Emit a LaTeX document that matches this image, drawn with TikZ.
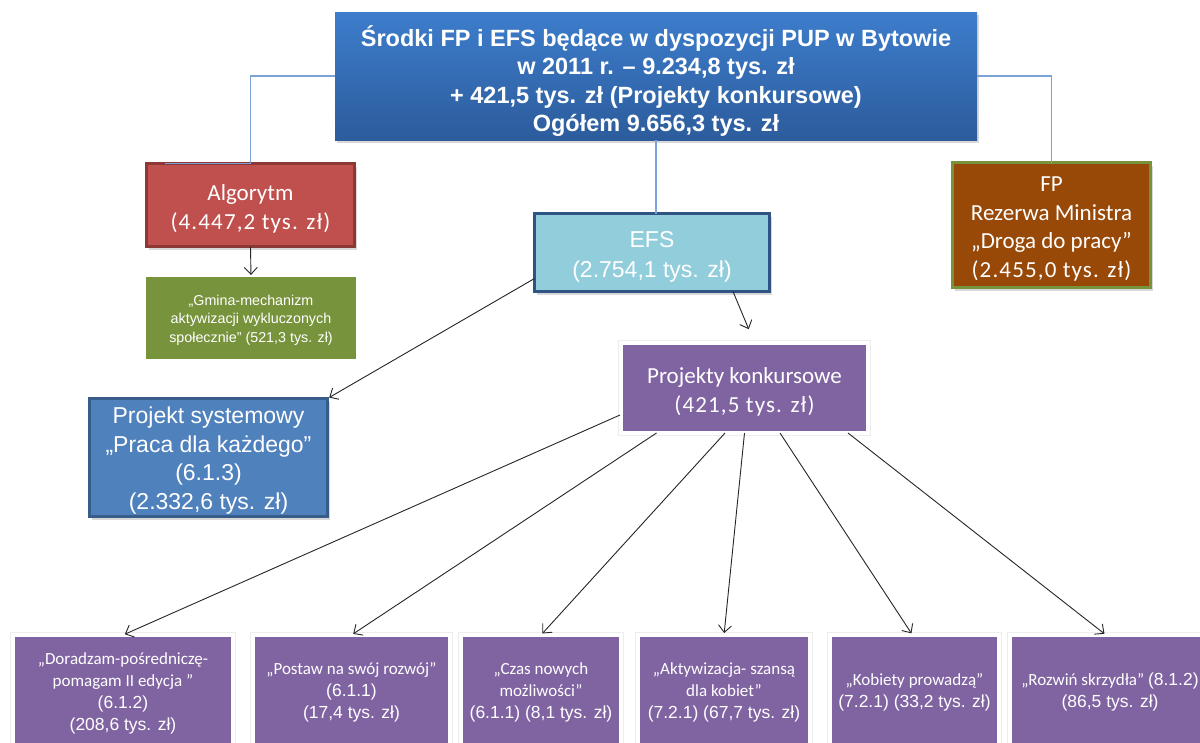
\documentclass[tikz,border=0pt]{standalone}
\usepackage{fontspec}
\setmainfont{Liberation Sans}
\newfontfamily\fcal{Carlito}
\newfontfamily\fcalw[LetterSpace=5]{Carlito}
\newfontfamily\farial{Liberation Sans}
\usetikzlibrary{arrows.meta,shadows,calc}
\definecolor{topA}{HTML}{3D7DCC}
\definecolor{topB}{HTML}{2C5C9C}
\definecolor{algF}{HTML}{C0504D}
\definecolor{algD}{HTML}{8C3836}
\definecolor{olive}{HTML}{77933C}
\definecolor{brownF}{HTML}{984807}
\definecolor{efsF}{HTML}{92CDDC}
\definecolor{efsD}{HTML}{2F5382}
\definecolor{sysF}{HTML}{4F81BD}
\definecolor{sysD}{HTML}{385D8A}
\definecolor{purp}{HTML}{8064A2}
\definecolor{connC}{HTML}{7BA3D8}
\tikzset{
  box/.style={rectangle, inner sep=2pt, outer sep=0pt, align=center, text=white},
  shad/.style={drop shadow={opacity=0.3, shadow xshift=2pt, shadow yshift=-3pt}},
  glow/.style={box, fill=purp, preaction={draw=black!7, line width=6.5pt}, draw=white, line width=4pt},
  conn/.style={draw=connC, line width=1.3pt},
  arr/.style={-{Straight Barb[length=7pt,width=13pt]}, line width=0.9pt, draw=black!85, shorten >=2pt},
  txt/.style={text=white, align=center, inner sep=0pt, yshift=-4pt},
  calf/.style={font=\fcal\fontsize{23}{29}\selectfont},
  ar/.style={font=\farial\fontsize{17.5}{21}\selectfont},
  bottomf/.style={font=\fcal\fontsize{17}{22}\selectfont}
}
\newcommand{\ar}[1]{{\farial\fontsize{17.5}{21}\selectfont #1}}
\begin{document}
\begin{tikzpicture}[x=1pt,y=-1pt]
\useasboundingbox (0,0) rectangle (1200,742);
\fill[white] (0,0) rectangle (1200,742);

% top box
\node[box, shad, top color=topA, bottom color=topB, minimum width=642, minimum height=128,
  label={[txt, yshift=-1pt, font=\farial\bfseries\fontsize{23.5}{28.5}\selectfont]center:{Środki FP i EFS będące w dyspozycji PUP w Bytowie\\ w 2011 r. – 9.234,8 tys. zł\\ + 421,5 tys. zł (Projekty konkursowe)\\ Ogółem 9.656,3 tys. zł}}] (top) at (656,76) {};

% second level
\node[box, shad, fill=algF, draw=algD, line width=3pt, minimum width=208, minimum height=83,
  label={[txt, calf]center:{Algorytm\\{\fcalw(4.447,2 tys. zł)}}}] (alg) at (250.5,205) {};
\node[box, fill=olive, minimum width=210, minimum height=82,
  label={[txt, yshift=2pt, font=\farial\fontsize{14.3}{18.5}\selectfont]center:{„Gmina-mechanizm\\aktywizacji wykluczonych\\społecznie” (521,3 tys. zł)}}] (gmina) at (251,318) {};
\node[box, shad, fill=brownF, draw=olive, line width=3pt, minimum width=198, minimum height=125,
  label={[txt, font=\fcal\fontsize{23}{28.7}\selectfont]center:{FP\\Rezerwa Ministra\\„Droga do pracy”\\{\fcalw(2.455,0 tys. zł)}}}] (fp) at (1051.5,225) {};
\node[box, shad, fill=efsF, draw=efsD, line width=3pt, minimum width=235, minimum height=78,
  label={[txt, font=\farial\fontsize{23}{30}\selectfont]center:{EFS\\(2.754,1 tys. zł)}}] (efs) at (652,252.5) {};
\node[box, shad, fill=sysF, draw=sysD, line width=3pt, minimum width=238, minimum height=118,
  label={[txt, yshift=1pt, font=\farial\fontsize{23}{28.7}\selectfont]center:{Projekt systemowy\\„Praca dla każdego”\\(6.1.3)\\(2.332,6 tys. zł)}}] (sys) at (208.5,457.5) {};
\node[glow, minimum width=247, minimum height=90,
  label={[txt, calf]center:{Projekty konkursowe\\{\fcalw(421,5 tys. zł)}}}] (konk) at (744.5,388) {};

% bottom boxes
\node[glow, minimum width=220, minimum height=110,
  label={[txt, yshift=1pt, bottomf]center:{„Doradzam-pośredniczę-\\pomagam II edycja ”\\\ar{(6.1.2)}\\\ar{(208,6 tys. zł)}}}] (b1) at (123,690) {};
\node[glow, minimum width=197, minimum height=110,
  label={[txt, yshift=2pt, bottomf]center:{„Postaw na swój rozwój”\\\ar{(6.1.1)}\\\ar{(17,4 tys. zł)}}}] (b2) at (351.5,690) {};
\node[glow, minimum width=160, minimum height=110,
  label={[txt, yshift=2pt, bottomf]center:{„Czas nowych\\możliwości”\\\ar{(6.1.1) (8,1 tys. zł)}}}] (b3) at (541,690) {};
\node[glow, minimum width=172, minimum height=110,
  label={[txt, yshift=2pt, bottomf]center:{„Aktywizacja- szansą\\dla kobiet”\\\ar{(7.2.1) (67,7 tys. zł)}}}] (b4) at (724,690) {};
\node[glow, minimum width=169, minimum height=110,
  label={[txt, yshift=2pt, bottomf]center:{„Kobiety prowadzą”\\\ar{(7.2.1) (33,2 tys. zł)}}}] (b5) at (914.5,690) {};
\node[glow, minimum width=200, minimum height=110,
  label={[txt, yshift=2pt, xshift=0pt, bottomf]center:{„Rozwiń skrzydła” \ar{(8.1.2)}\\\ar{(86,5 tys. zł)}}}] (b6) at (1110,690) {};

% connectors from top
\draw[conn] (top.west) -| (alg.north) -- ($(alg.north west)+(18,0)$);
\draw[conn] (top.east) -| (fp.north);
\draw[conn] (top.south) -- (top.south |- efs.north);

% arrows
\draw[arr] (alg.south) -- (gmina.north);
\draw[arr] ($(efs.west)+(0,26)$) -- (sys.north east);
\draw[arr] ($(efs.south)+(81,0)$) -- ($(konk.north)+(5,-12)$);
\draw[arr] ($(konk.west)+(-1,27)$) -- (b1.north);
\draw[arr] ($(konk.south)+(-88,0)$) -- (b2.north);
\draw[arr] ($(konk.south)+(-19.5,0)$) -- (b3.north);
\draw[arr] (konk.south) -- (b4.north);
\draw[arr] ($(konk.south)+(35.5,0)$) -- ($(b5.north)+(-2,0)$);
\draw[arr] ($(konk.south)+(103.5,0)$) -- ($(b6.north)+(-4,0)$);
\end{tikzpicture}
\end{document}
